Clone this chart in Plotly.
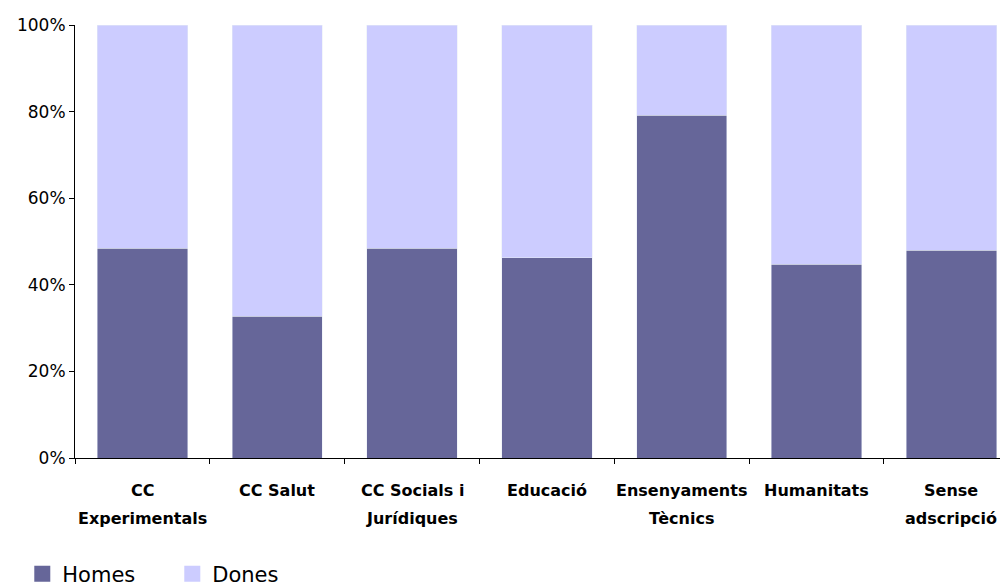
import plotly.graph_objects as go

categories = ["CC Experimentals", "CC Salut", "CC Socials i Jurídiques", "Educació",
              "Ensenyaments Tècnics", "Humanitats", "Sense adscripció"]
label_line1 = ["CC", "CC Salut", "CC Socials i", "Educació", "Ensenyaments", "Humanitats", "Sense"]
label_line2 = ["Experimentals", "", "Jurídiques", "", "Tècnics", "", "adscripció"]
homes = [48.5, 32.7, 48.5, 46.2, 79.2, 44.8, 48.0]
dones = [100 - h for h in homes]

C_HOMES = "#666699"
C_DONES = "#CCCCFF"
FONT = "DejaVu Sans"

fig = go.Figure()
fig.add_trace(go.Bar(x=categories, y=homes, marker_color=C_HOMES, name="Homes", showlegend=False))
fig.add_trace(go.Bar(x=categories, y=dones, marker_color=C_DONES, name="Dones", showlegend=False))
# legend entries with square swatches
fig.add_trace(go.Scatter(x=[None], y=[None], mode="markers", name="Homes",
                         marker=dict(symbol="square", size=20, color=C_HOMES)))
fig.add_trace(go.Scatter(x=[None], y=[None], mode="markers", name="Dones",
                         marker=dict(symbol="square", size=20, color=C_DONES)))

annotations = []
for c, l1, l2 in zip(categories, label_line1, label_line2):
    annotations.append(dict(x=c, xref="x", y=0, yref="paper", yanchor="middle", yshift=-32,
                            text=l1, showarrow=False, font=dict(family=FONT, size=16, color="black", weight="bold")))
    if l2:
        annotations.append(dict(x=c, xref="x", y=0, yref="paper", yanchor="middle", yshift=-60,
                                text=l2, showarrow=False, font=dict(family=FONT, size=16, color="black", weight="bold")))

fig.update_layout(
    width=1000, height=580,
    barmode="stack", bargap=0.33,
    plot_bgcolor="white", paper_bgcolor="white",
    margin=dict(l=67, r=0, t=17, b=130, autoexpand=False),
    font=dict(family=FONT, color="black"),
    annotations=annotations,
    showlegend=True,
    legend=dict(orientation="h", x=-0.0565, xanchor="left", y=-0.268, yanchor="middle",
                traceorder="normal",
                font=dict(family=FONT, size=21, color="black"),
                entrywidth=105, entrywidthmode="pixels", itemsizing="trace"),
    xaxis=dict(type="category", range=[-0.5, 6.42], showticklabels=False,
               showline=True, linecolor="black", linewidth=1,
               ticks="outside", ticklen=5, tickcolor="black", tickson="boundaries",
               showgrid=False, fixedrange=True, automargin=False),
    yaxis=dict(range=[0, 100], tickvals=[0, 20, 40, 60, 80, 100],
               ticktext=["0%", "20%", "40%", "60%", "80%", "100%"],
               showline=True, linecolor="black", linewidth=1,
               ticks="outside", ticklen=5, tickcolor="black",
               showgrid=False, zeroline=False, automargin=False,
               tickfont=dict(family=FONT, size=17, color="black")),
)

fig.write_html("out.html")
